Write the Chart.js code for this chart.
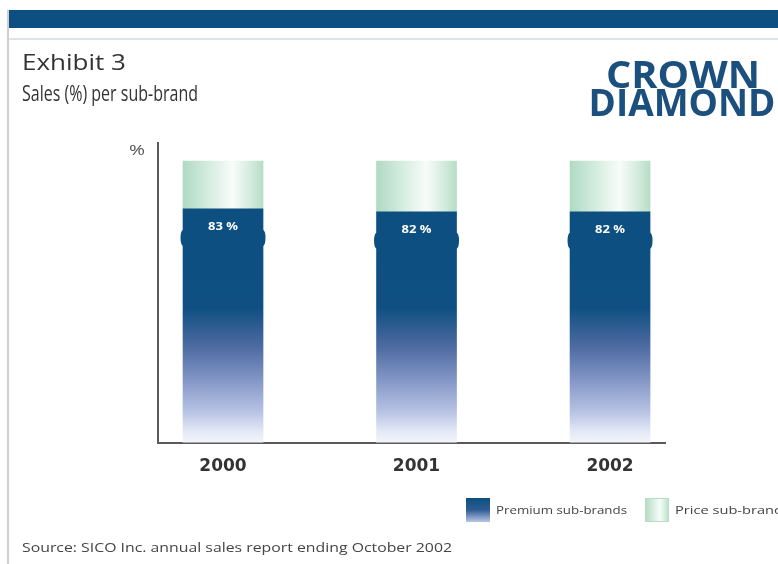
<!DOCTYPE html>
<html>
<head>
<meta charset="utf-8">
<script src="https://cdn.jsdelivr.net/npm/chart.js@4.4.1/dist/chart.umd.min.js"></script>
<style>
  html, body { margin: 0; padding: 0; background: #fff; }
  #wrap { width: 778px; height: 564px; }
</style>
</head>
<body>
<div id="wrap"><canvas id="salesChart" width="778" height="564"></canvas></div>
<script>
// sales split per year, in percent
const years = ['2000', '2001', '2002'];
const premiumShare = [83, 82, 82];
const priceShare = [17, 18, 18];
const seriesNames = ['Premium sub-brands', 'Price sub-brand'];

const BLUE = '#0c4f80';

// vertical fade on the premium part: solid blue on top, washing out to the axis
function premiumFill(c) {
    const chart = c.chart;
    const y = chart.scales.y;
    if (!chart.chartArea || !y) return BLUE;
    const y0 = y.getPixelForValue(0);
    const y1 = y.getPixelForValue(100);
    const g = chart.ctx.createLinearGradient(0, y0, 0, y1);
    g.addColorStop(0, '#f4f5fa');
    g.addColorStop(0.04, '#e3e8f5');
    g.addColorStop(0.11, '#b7c3e4');
    g.addColorStop(0.22, '#8497c6');
    g.addColorStop(0.34, '#4d6ba1');
    g.addColorStop(0.48, '#0f4f82');
    g.addColorStop(1, BLUE);
    return g;
}

// horizontal sheen on the price part
function priceGradient(ctx, left, right) {
    const g = ctx.createLinearGradient(left, 0, right, 0);
    g.addColorStop(0, '#b0dac2');
    g.addColorStop(0.35, '#d8eee1');
    g.addColorStop(0.62, '#f8fcfa');
    g.addColorStop(0.85, '#d2ebdc');
    g.addColorStop(1, '#b6ddc7');
    return g;
}

function priceFill(c) {
    const chart = c.chart;
    const x = chart.scales.x;
    if (!chart.chartArea || !x) return '#c8e6d4';
    const cx = x.getPixelForValue(c.dataIndex);
    return priceGradient(chart.ctx, cx - 40, cx + 40);
}

// text squeezed to a given width (the original face is a narrow one)
function drawText(ctx, text, x, y, font, color, width, align) {
    ctx.save();
    ctx.font = font;
    ctx.fillStyle = color;
    ctx.textBaseline = 'alphabetic';
    ctx.textAlign = align || 'left';
    const w = ctx.measureText(text).width;
    ctx.translate(x, y);
    ctx.scale(width ? width / w : 1, 1);
    ctx.fillText(text, 0, 0);
    ctx.restore();
}

const pagePlugin = {
    id: 'page',
    beforeDraw(chart) {
        const ctx = chart.ctx;
        ctx.save();
        ctx.fillStyle = '#fff';
        ctx.fillRect(0, 0, chart.width, chart.height);
        // frame: band on top, rule under it, line down the left
        ctx.fillStyle = BLUE;
        ctx.fillRect(8, 10, 770, 18);
        ctx.fillStyle = '#dde3e8';
        ctx.fillRect(8, 38, 770, 2);
        ctx.fillStyle = '#cfcfcf';
        ctx.fillRect(7, 10, 2, 554);
        ctx.restore();

        drawText(ctx, 'Exhibit 3', 22, 70, '22px "Open Sans"', '#333', 104);
        drawText(ctx, 'Sales (%) per sub-brand', 22, 101, '21px "Open Sans"', '#333', 176);

        drawText(ctx, 'CROWN', 683, 88, 'bold 37px "Open Sans"', '#1b4f7d', 154, 'center');
        drawText(ctx, 'DIAMOND', 682, 116, 'bold 37px "Open Sans"', '#1b4f7d', 187, 'center');

        drawText(ctx, '%', 137, 155, '15px "Open Sans"', '#555', 16, 'center');

        // legend
        const leg = [
            { x: 466, w: 131 },
            { x: 645, w: 108 }
        ];
        leg.forEach((l, i) => {
            ctx.save();
            if (i === 0) {
                const g = ctx.createLinearGradient(0, 498, 0, 522);
                g.addColorStop(0, BLUE);
                g.addColorStop(0.5, '#2f5c94');
                g.addColorStop(1, '#b9c6e6');
                ctx.fillStyle = g;
            } else {
                ctx.fillStyle = priceGradient(ctx, l.x, l.x + 24);
            }
            ctx.fillRect(l.x, 498, 24, 24);
            if (i === 1) {
                ctx.strokeStyle = '#b8dcc8';
                ctx.lineWidth = 1;
                ctx.strokeRect(l.x + 0.5, 498.5, 23, 23);
            }
            ctx.restore();
            drawText(ctx, chart.data.datasets[i].label, l.x + 30, 514, '11px "Open Sans"', '#444', l.w);
        });

        drawText(ctx, 'Source: SICO Inc. annual sales report ending October 2002', 22, 552,
            '13px "Open Sans"', '#444', 430);
    },
    afterDatasetsDraw(chart) {
        const ctx = chart.ctx;
        const meta = chart.getDatasetMeta(0);
        meta.data.forEach((bar, i) => {
            const half = bar.width / 2;
            const top = bar.y;
            // the little lugs on both sides of the can
            ctx.save();
            ctx.fillStyle = BLUE;
            [-1, 1].forEach(side => {
                const ex = bar.x + side * half;
                ctx.beginPath();
                ctx.ellipse(ex, top + 29, 2.5, 8, 0, 0, Math.PI * 2);
                ctx.fill();
            });
            ctx.restore();
            drawText(ctx, premiumShare[i] + ' %', bar.x, top + 21, 'bold 11px "Open Sans"', '#fff', 30, 'center');
        });
    }
};

const chart = new Chart(document.getElementById('salesChart'), {
    type: 'bar',
    data: {
        datasets: [
            {
                label: seriesNames[0],
                data: premiumShare.map((v, i) => ({ x: i, y: v })),
                backgroundColor: premiumFill,
                borderWidth: 0,
                barThickness: 80
            },
            {
                label: seriesNames[1],
                data: priceShare.map((v, i) => ({ x: i, y: v })),
                backgroundColor: priceFill,
                borderWidth: 0,
                barThickness: 80
            }
        ]
    },
    options: {
        responsive: false,
        animation: false,
        layout: {
            padding: { left: 150, right: 113, top: 143, bottom: 81 }
        },
        plugins: {
            legend: { display: false },
            tooltip: { enabled: false }
        },
        scales: {
            x: {
                type: 'linear',
                stacked: true,
                offset: false,
                min: -0.336,
                max: 2.284,
                afterBuildTicks: s => { s.ticks = years.map((_, i) => ({ value: i })); },
                ticks: {
                    callback: v => years[v],
                    color: '#333',
                    padding: 6,
                    font: { family: 'DejaVu Sans', size: 17, weight: 'bold' }
                },
                grid: { display: false, offset: false },
                border: { display: true, color: '#5a5a5a', width: 2 }
            },
            y: {
                stacked: true,
                min: 0,
                max: 106.4,
                ticks: { display: false },
                grid: { display: false },
                border: { display: true, color: '#5a5a5a', width: 2 }
            }
        }
    },
    plugins: [pagePlugin]
});
</script>
</body>
</html>
